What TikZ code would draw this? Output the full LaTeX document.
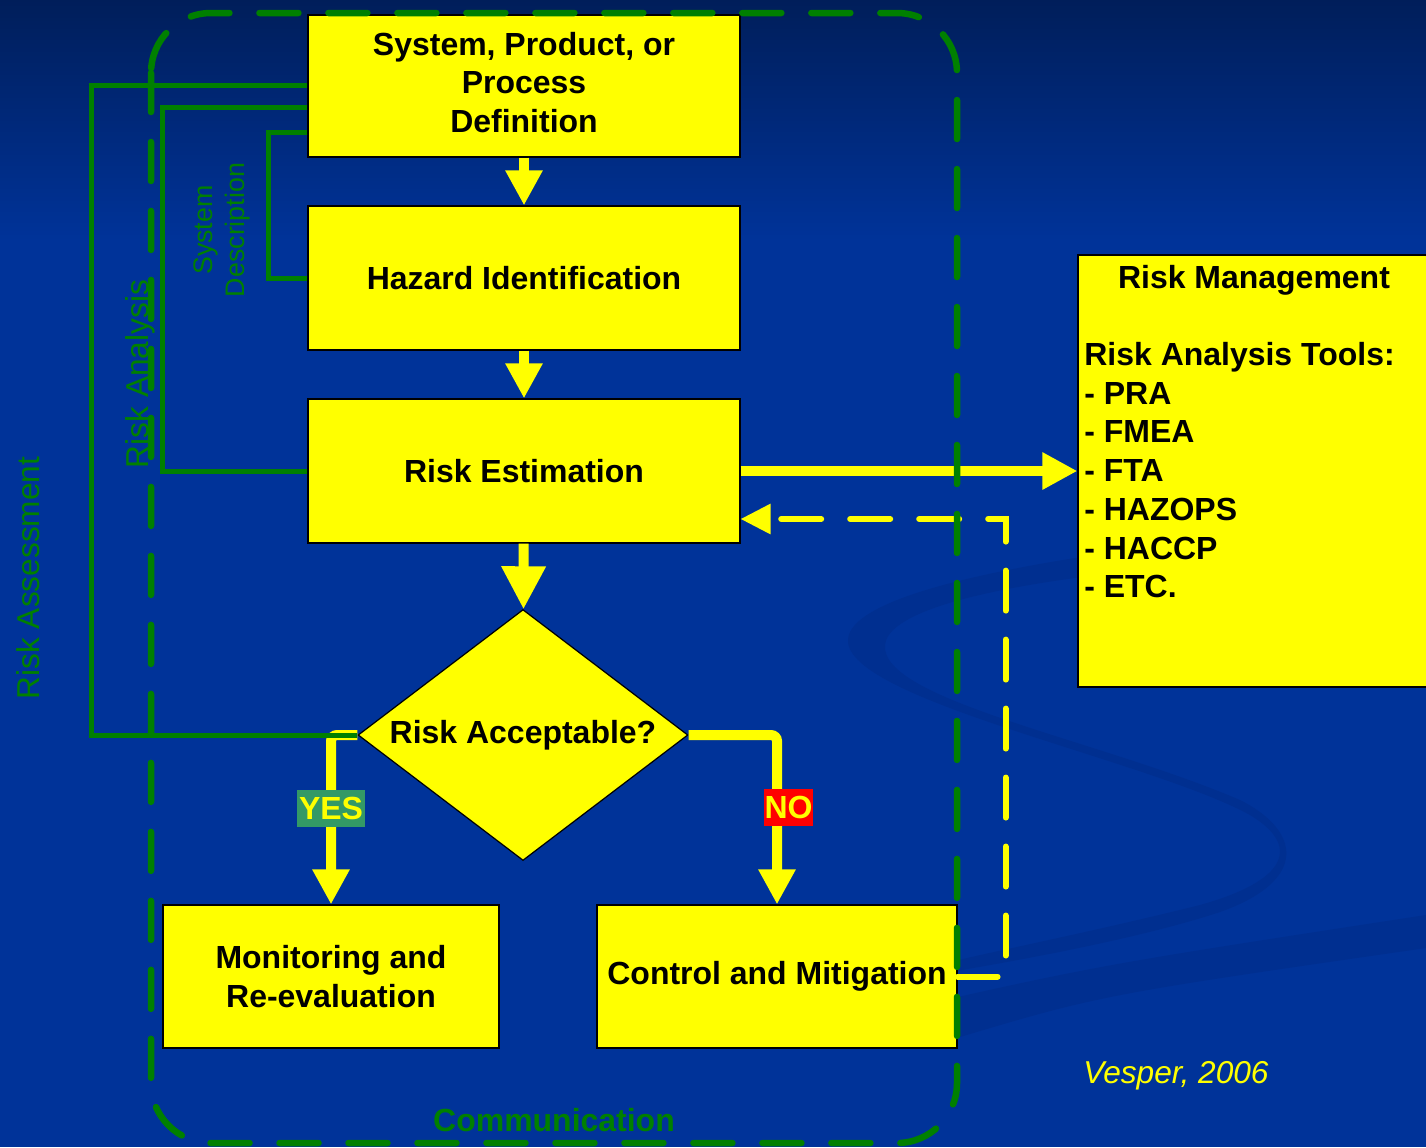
\documentclass[tikz,border=0pt]{standalone}
\usepackage{fontspec}
\setmainfont{Liberation Sans}
\usetikzlibrary{arrows.meta,shapes.geometric,calc}
\definecolor{bgblue}{HTML}{003399}
\definecolor{bgtop}{HTML}{001E5A}
\definecolor{swooshc}{RGB}{0,47,144}
\definecolor{ylw}{HTML}{FFFF00}
\definecolor{grn}{HTML}{008000}
\definecolor{yesgrn}{HTML}{339966}
\definecolor{nored}{HTML}{FF0000}
\begin{document}
\begin{tikzpicture}[x=0.02cm,y=-0.02cm,
  txt/.style={font=\fontsize{18.2}{21.9}\selectfont\bfseries, align=center},
  ybox/.style={draw=black, line width=0.7pt, fill=ylw, txt, inner sep=0pt},
  flow/.style={draw=ylw, line width=0.2cm, rounded corners=0.12cm,
    -{Triangle[width=0.7cm,length=0.7cm]}},
  bigflow/.style={draw=ylw, line width=0.2cm,
    -{Triangle[width=0.84cm,length=0.86cm]}},
  ydash/.style={draw=ylw, line width=0.12cm, line cap=round,
    dash pattern=on 0.8cm off 0.58cm,
    -{Triangle[width=0.58cm,length=0.6cm]}},
  gline/.style={draw=grn, line width=0.1cm},
  gdash/.style={draw=grn, line width=0.13cm, line cap=round,
    dash pattern=on 0.78cm off 0.6cm},
  gtxt/.style={text=grn, inner sep=0pt},
  tag/.style={txt, text=ylw, inner ysep=0pt, minimum height=0.74cm}
]
% background
\clip (0,0) rectangle (1426,1147);
\fill[bgblue] (0,0) rectangle (1426,1147);
\shade[top color=bgtop, bottom color=bgblue] (0,0) rectangle (1426,240);
% swoosh
\fill[swooshc] (1426,520) .. controls (1150,540) and (850,580) .. (848,640)
  .. controls (846,700) and (1150,760) .. (1250,815)
  .. controls (1300,845) and (1290,880) .. (1200,905)
  .. controls (1100,930) and (1000,950) .. (950,962)
  -- (950,972) .. controls (1050,955) and (1150,935) .. (1220,912)
  .. controls (1310,880) and (1300,830) .. (1240,800)
  .. controls (1100,740) and (880,700) .. (885,645)
  .. controls (890,590) and (1150,560) .. (1426,553) -- cycle;
\fill[swooshc] (900,1010) .. controls (1100,965) .. (1426,915)
  -- (1426,948) .. controls (1100,995) .. (950,1040) -- cycle;

% boxes
\node[ybox, minimum width=8.64cm, minimum height=2.84cm] (b1) at (524,86)
  {\raisebox{0.04cm}{\begin{tabular}{@{}c@{}}System, Product, or\\Process\\Definition\end{tabular}}};
\node[ybox, minimum width=8.64cm, minimum height=2.88cm] (b2) at (524,278)
  {Hazard Identification};
\node[ybox, minimum width=8.64cm, minimum height=2.88cm] (b3) at (524,471)
  {Risk Estimation};
\node[ybox, diamond, aspect=1.315, minimum width=6.6cm, minimum height=5.02cm] (d) at (523,735)
  {Risk Acceptable?};
\node[ybox, minimum width=6.72cm, minimum height=2.86cm] (mon) at (331,976.5)
  {Monitoring and\\Re-evaluation};
\node[ybox, minimum width=7.2cm, minimum height=2.86cm] (ctl) at (777,976.5)
  {Control and Mitigation};
\node[ybox, minimum width=7.2cm, minimum height=8.64cm] (rm) at (1258,471) {};
\node[txt, anchor=base, inner sep=0pt] (rmt) at (1254,288.5) {Risk Management};
\foreach \t [count=\i] in {Risk Analysis Tools:, - PRA, - FMEA, - FTA, - HAZOPS, - HACCP, - ETC.}
  \node[txt, anchor=base west, inner sep=0pt] (rm\i) at (1084,{365.5+38.7*(\i-1)}) {\t};

% flow arrows
\draw[flow] (b1) -- (b2);
\draw[flow] (b2) -- (b3);
\draw[bigflow] (b3) -- (d);
\draw[flow] (b3.east) -- (rm.west |- b3.east);
\draw[flow] (d.west) -| (mon.north);
\draw[flow] (d.east) -| (ctl.north);
\draw[ydash] (ctl.east) -- ++(48,0) |- ($(b3.east)+(0,48)$);

% green brackets
\draw[gline] (d.west) -- (91,735) |- ($(b1.west)+(0,-1)$);
\draw[gline] ($(b1.west)+(0,21)$) -- (162,107) -- (162,471) -- (b3.west);
\draw[gline] ($(b1.west)+(0,46)$) -- (268,132) -- (268,278) -- (b2.west);

% labels
\node[tag, fill=yesgrn, inner xsep=0.04cm] (yes) at (331,808) {YES};
\node[tag, fill=nored, inner xsep=0.02cm] (no) at (788.5,807) {NO};

\node[gtxt, font=\fontsize{18}{21.6}\selectfont, rotate=90] (rass) at (28.5,578) {Risk Assessment};
\node[gtxt, font=\fontsize{18}{21.6}\selectfont, rotate=90] (rana) at (140,374) {Risk Analysis};
\node[gtxt, font=\fontsize{15.25}{18.2}\selectfont, rotate=90, align=center] (sysd) at (222,230) {System\\Description};
\node[txt, text=grn, inner sep=0pt] (comm) at (554,1120) {Communication};
\node[font=\fontsize{18}{21.6}\selectfont\itshape, text=ylw, anchor=base west, inner sep=0pt] (ves) at (1083,1083.5) {Vesper, 2006};

% communication frame
\draw[gdash, rounded corners=1.2cm] (151,13) rectangle (957,1143);
\end{tikzpicture}
\end{document}
